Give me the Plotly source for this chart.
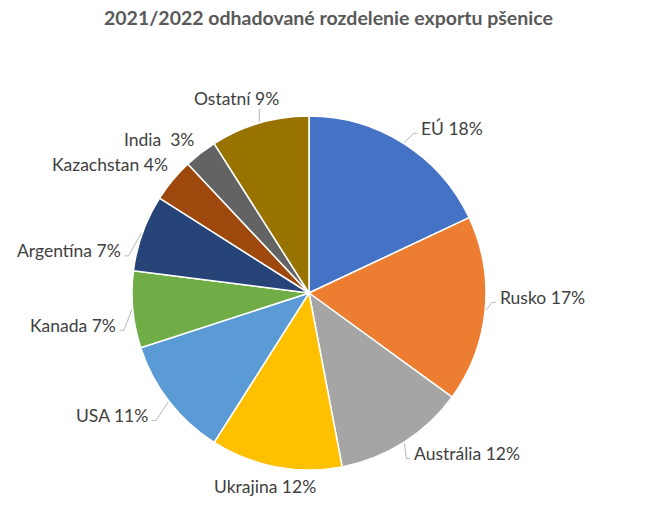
import math
import plotly.graph_objects as go

# ---- data ----
labels = ["EÚ", "Rusko", "Austrália", "Ukrajina", "USA", "Kanada",
          "Argentína", "Kazachstan", "India", "Ostatní"]
values = [18, 17, 12, 12, 11, 7, 7, 4, 3, 9]
label_texts = ["EÚ 18%", "Rusko 17%", "Austrália 12%", "Ukrajina 12%", "USA 11%",
               "Kanada 7%", "Argentína 7%", "Kazachstan 4%", "India  3%", "Ostatní 9%"]
colors = ["#4472C4", "#ED7D31", "#A5A5A5", "#FFC000", "#5B9BD5",
          "#70AD47", "#264478", "#9E480E", "#636363", "#997300"]
title = "2021/2022 odhadované rozdelenie exportu pšenice"

# ---- layout (pixels) ----
W, H = 650, 507
CX, CY, R = 309, 293, 177
LAB_R = 195
# per-label nudges (dx, dy) and anchor side
nudges = [(6, 0), (-5, -14), (-1, -4), (-7, 2), (-5, 3),
          (3, 14), (-3, 24), (11, -4), (7, 1), (-18, -7)]
anchors = ["left", "left", "left", "center", "right",
           "right", "right", "right", "right", "center"]
leader = [True, True, True, False, True, True, True, False, False, True]

def px(x):
    return x / W

def py(y):
    return 1 - y / H

fig = go.Figure(go.Pie(
    labels=labels, values=values, sort=False, direction="clockwise", rotation=0,
    marker=dict(colors=colors, line=dict(color="white", width=1.5)),
    textinfo="none", hoverinfo="label+percent",
    domain=dict(x=[px(CX - R), px(CX + R)], y=[py(CY + R), py(CY - R)]),
    showlegend=False,
))

total = sum(values)
cum = 0
shapes = []
annotations = []
for i, v in enumerate(values):
    mid = (cum + v / 2) / total * 2 * math.pi
    cum += v
    s, c = math.sin(mid), math.cos(mid)
    lx = CX + LAB_R * s + nudges[i][0]
    ly = CY - LAB_R * c + nudges[i][1]
    annotations.append(dict(
        x=px(lx), y=py(ly), xref="paper", yref="paper", text=label_texts[i],
        showarrow=False, xanchor=anchors[i], yanchor="middle",
        font=dict(family="Lato", size=17.5, color="#404040"),
    ))
    if leader[i]:
        ex, ey = CX + (R + 1) * s, CY - (R + 1) * c
        if anchors[i] == "left":
            endx, endy = lx - 2, ly + 5
            elbx = endx - 4
            path = f"M{px(ex)},{py(ey)} L{px(elbx)},{py(endy)} L{px(endx)},{py(endy)}"
        elif anchors[i] == "right":
            endx, endy = lx + 2, ly + 5
            elbx = endx + 4
            path = f"M{px(ex)},{py(ey)} L{px(elbx)},{py(endy)} L{px(endx)},{py(endy)}"
        else:
            endy = ly + 10 if c > 0 else ly - 10
            path = f"M{px(ex)},{py(ey)} L{px(ex)},{py(endy)}"
        shapes.append(dict(type="path", path=path, xref="paper", yref="paper",
                           line=dict(color="#A6A6A6", width=0.8)))

annotations.append(dict(
    x=px(328), y=py(18), xref="paper", yref="paper", text=f"<b>{title}</b>",
    showarrow=False, xanchor="center", yanchor="middle",
    font=dict(family="Lato", size=19.5, color="#595959"),
))

fig.update_layout(
    width=W, height=H, margin=dict(l=0, r=0, t=0, b=0),
    paper_bgcolor="white", plot_bgcolor="white",
    shapes=shapes, annotations=annotations,
)

fig.write_html("out.html", config={"displayModeBar": False},
               post_script="document.body.style.margin='0';")
